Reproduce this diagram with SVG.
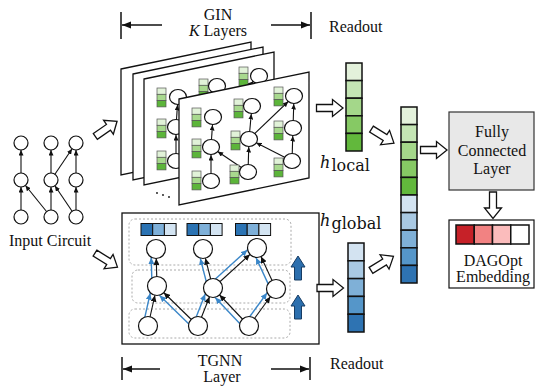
<svg xmlns="http://www.w3.org/2000/svg" xmlns:xlink="http://www.w3.org/1999/xlink" width="535" height="387" viewBox="0 0 535 387">
<style>
text{font-family:"Liberation Serif","Times New Roman",serif;font-size:16px;fill:#111}
text.math{font-family:"DejaVu Serif",serif}
.plane{fill:#fff;stroke:#111;stroke-width:1.3}
.e{stroke:#111;stroke-width:1.1;fill:none}
.n{fill:#fff;stroke:#111;stroke-width:1.2}
.cell{stroke:#111;stroke-width:1.5}
.gb{stroke:#555;stroke-width:0.7}
.hol{fill:#fff;stroke:#111;stroke-width:1.3}
.dim{stroke:#111;stroke-width:1.5;fill:none}
.dot{fill:none;stroke:#aaa;stroke-width:1;stroke-dasharray:2 2}
.be{stroke:#3a86c8;stroke-width:1.4;fill:none}
.ua{fill:#2c6fae;stroke:#173c63;stroke-width:1}
</style>
<defs>
<marker id="a7" markerUnits="userSpaceOnUse" markerWidth="13" markerHeight="5" refX="12.5" refY="2.5" orient="auto"><path d="M0,0 L5.5,2.5 L0,5 z" fill="#111"/></marker>
<marker id="a8" markerUnits="userSpaceOnUse" markerWidth="14" markerHeight="5" refX="13.5" refY="2.5" orient="auto"><path d="M0,0 L5.5,2.5 L0,5 z" fill="#111"/></marker>
<marker id="a9" markerUnits="userSpaceOnUse" markerWidth="17" markerHeight="6" refX="16" refY="3" orient="auto"><path d="M0,0 L6.5,3 L0,6 z" fill="#111"/></marker>
<marker id="b9" markerUnits="userSpaceOnUse" markerWidth="16" markerHeight="6" refX="15" refY="3" orient="auto"><path d="M0,0 L6.5,3 L0,6 z" fill="#3a86c8"/></marker>
<marker id="ah" markerUnits="userSpaceOnUse" markerWidth="10" markerHeight="8" refX="9" refY="4" orient="auto"><path d="M0,0.5 L9,4 L0,7.5 z" fill="#111"/></marker>
<path id="ha" d="M-13,-3.5 H3 V-8.5 L13.5,0 L3,8.5 V3.5 H-13 Z"/>
<path id="upa" d="M0,-12 L7,-1 L3.5,-1 L3.5,12 L-3.5,12 L-3.5,-1 L-7,-1 Z"/>
<g id="gbar">
<rect class="gb" x="0" y="0" width="9" height="6.3" fill="#e1f2d8"/>
<rect class="gb" x="0" y="6.3" width="9" height="6.3" fill="#a8d98e"/>
<rect class="gb" x="0" y="12.6" width="9" height="6.3" fill="#5cb53a"/>
</g>
<g id="bbar">
<rect x="0" y="0" width="11.7" height="12" fill="#2b73b3" stroke="#111" stroke-width="1"/>
<rect x="11.7" y="0" width="11.7" height="12" fill="#7eb0d9" stroke="#111" stroke-width="1"/>
<rect x="23.4" y="0" width="11.7" height="12" fill="#d3e4f2" stroke="#111" stroke-width="1"/>
</g>
<g id="gin-graph">
<g class="gin-edges">
<line class="e" marker-end="url(#a8)" x1="211" y1="181" x2="211" y2="147"/>
<line class="e" marker-end="url(#a8)" x1="211" y1="147" x2="213" y2="117"/>
<line class="e" marker-end="url(#a8)" x1="248" y1="172" x2="211" y2="147"/>
<line class="e" marker-end="url(#a8)" x1="248" y1="172" x2="249" y2="139"/>
<line class="e" marker-end="url(#a8)" x1="249" y1="139" x2="252" y2="106"/>
<line class="e" marker-end="url(#a8)" x1="249" y1="139" x2="294" y2="96"/>
<line class="e" marker-end="url(#a8)" x1="292" y1="161" x2="249" y2="139"/>
<line class="e" marker-end="url(#a8)" x1="292" y1="161" x2="293" y2="128"/>
<line class="e" marker-end="url(#a8)" x1="293" y1="128" x2="294" y2="96"/>
</g>
<use xlink:href="#gbar" href="#gbar" x="192" y="108"/>
<use xlink:href="#gbar" href="#gbar" x="192" y="139"/>
<use xlink:href="#gbar" href="#gbar" x="192" y="171"/>
<use xlink:href="#gbar" href="#gbar" x="234" y="99"/>
<use xlink:href="#gbar" href="#gbar" x="231" y="131"/>
<use xlink:href="#gbar" href="#gbar" x="230" y="165"/>
<use xlink:href="#gbar" href="#gbar" x="274" y="87"/>
<use xlink:href="#gbar" href="#gbar" x="274" y="121"/>
<use xlink:href="#gbar" href="#gbar" x="274" y="158"/>
<ellipse class="n" cx="213" cy="117" rx="8.5" ry="7.5"/>
<ellipse class="n" cx="211" cy="147" rx="8.5" ry="7.5"/>
<ellipse class="n" cx="211" cy="181" rx="8.5" ry="7.5"/>
<ellipse class="n" cx="252" cy="106" rx="8.5" ry="7.5"/>
<ellipse class="n" cx="249" cy="139" rx="8.5" ry="7.5"/>
<ellipse class="n" cx="248" cy="172" rx="8.5" ry="7.5"/>
<ellipse class="n" cx="294" cy="96" rx="8.5" ry="7.5"/>
<ellipse class="n" cx="293" cy="128" rx="8.5" ry="7.5"/>
<ellipse class="n" cx="292" cy="161" rx="8.5" ry="7.5"/>
</g>
</defs>
<rect width="535" height="387" fill="#fff"/>

<!-- header -->
<g id="header-gin">
<line class="dim" x1="121" y1="12" x2="121" y2="39"/>
<line class="dim" x1="162" y1="25" x2="122" y2="25" marker-end="url(#ah)"/>
<line class="dim" x1="271" y1="25" x2="310" y2="25" marker-end="url(#ah)"/>
<line class="dim" x1="311" y1="12" x2="311" y2="39"/>
<text x="218" y="20" text-anchor="middle">GIN</text>
<text x="218" y="36" text-anchor="middle"><tspan font-style="italic">K</tspan> Layers</text>
<text x="329" y="32">Readout</text>
</g>

<!-- input circuit -->
<g id="input-circuit">
<g class="connectors">
<line class="e" marker-end="url(#a7)" x1="21" y1="217" x2="21" y2="180"/>
<line class="e" marker-end="url(#a7)" x1="21" y1="180" x2="21" y2="143"/>
<line class="e" marker-end="url(#a7)" x1="51" y1="217" x2="51" y2="180"/>
<line class="e" marker-end="url(#a7)" x1="51" y1="180" x2="51" y2="143"/>
<line class="e" marker-end="url(#a7)" x1="76" y1="217" x2="76" y2="180"/>
<line class="e" marker-end="url(#a7)" x1="76" y1="180" x2="76" y2="143"/>
<line class="e" marker-end="url(#a7)" x1="51" y1="217" x2="21" y2="180"/>
<line class="e" marker-end="url(#a7)" x1="76" y1="217" x2="51" y2="180"/>
<line class="e" marker-end="url(#a7)" x1="51" y1="180" x2="76" y2="143"/>
</g>
<circle class="n" cx="21" cy="143" r="7"/>
<circle class="n" cx="51" cy="143" r="7"/>
<circle class="n" cx="76" cy="143" r="7"/>
<circle class="n" cx="21" cy="180" r="7"/>
<circle class="n" cx="51" cy="180" r="7"/>
<circle class="n" cx="76" cy="180" r="7"/>
<circle class="n" cx="21" cy="217" r="7"/>
<circle class="n" cx="51" cy="217" r="7"/>
<circle class="n" cx="76" cy="217" r="7"/>
<text x="9" y="246">Input Circuit</text>
</g>

<!-- GIN stack -->
<g id="gin-layers">
<polygon class="plane" points="121,69 251,42 251,148 121,175"/>
<polygon class="plane" points="133,74 263,47 263,153 133,180"/>
<polygon class="plane" points="144,79 274,52 274,158 144,185"/>
<use xlink:href="#gin-graph" href="#gin-graph" transform="translate(-35,-20)"/>
<circle cx="157" cy="193" r="0.9" fill="#111"/>
<circle cx="163" cy="195" r="0.9" fill="#111"/>
<circle cx="169" cy="197" r="0.9" fill="#111"/>
<polygon class="plane" points="179,99 309,72 309,178 179,205"/>
<use xlink:href="#gin-graph" href="#gin-graph"/>
</g>

<!-- TGNN -->
<g id="tgnn">
<rect x="122" y="213" width="197" height="131" fill="#fff" stroke="#111" stroke-width="1.3"/>
<rect class="dot" x="129" y="219" width="162" height="46" rx="6"/>
<rect class="dot" x="132" y="270" width="158" height="33" rx="6"/>
<rect class="dot" x="129" y="309" width="161" height="29" rx="6"/>
<g class="connectors">
<line class="e" marker-end="url(#a9)" x1="148" y1="326" x2="157" y2="286"/>
<line class="e" marker-end="url(#a9)" x1="198" y1="326" x2="157" y2="286"/>
<line class="e" marker-end="url(#a9)" x1="198" y1="326" x2="213" y2="288"/>
<line class="e" marker-end="url(#a9)" x1="249" y1="326" x2="213" y2="288"/>
<line class="e" marker-end="url(#a9)" x1="249" y1="326" x2="276" y2="289"/>
<line class="e" marker-end="url(#a9)" x1="157" y1="286" x2="156" y2="249"/>
<line class="e" marker-end="url(#a9)" x1="213" y1="288" x2="203" y2="249"/>
<line class="e" marker-end="url(#a9)" x1="213" y1="288" x2="257" y2="248"/>
<line class="e" marker-end="url(#a9)" x1="276" y1="289" x2="257" y2="248"/>
<line class="be" marker-end="url(#b9)" x1="143.1" y1="324.9" x2="152.1" y2="284.9"/>
<line class="be" marker-end="url(#b9)" x1="194.5" y1="329.6" x2="153.5" y2="289.6"/>
<line class="be" marker-end="url(#b9)" x1="193.3" y1="324.2" x2="208.3" y2="286.2"/>
<line class="be" marker-end="url(#b9)" x1="245.4" y1="329.4" x2="209.4" y2="291.4"/>
<line class="be" marker-end="url(#b9)" x1="245.0" y1="323.1" x2="272.0" y2="286.1"/>
<line class="be" marker-end="url(#b9)" x1="152" y1="286.1" x2="151" y2="249.1"/>
<line class="be" marker-end="url(#b9)" x1="208.2" y1="289.2" x2="198.2" y2="250.2"/>
<line class="be" marker-end="url(#b9)" x1="209.6" y1="284.3" x2="253.6" y2="244.3"/>
<line class="be" marker-end="url(#b9)" x1="271.5" y1="291.1" x2="252.5" y2="250.1"/>
</g>
<circle class="n" cx="156" cy="249" r="9.5"/>
<circle class="n" cx="203" cy="249" r="9.5"/>
<circle class="n" cx="257" cy="248" r="9.5"/>
<circle class="n" cx="157" cy="286" r="9.5"/>
<circle class="n" cx="213" cy="288" r="9.5"/>
<circle class="n" cx="276" cy="289" r="9.5"/>
<circle class="n" cx="148" cy="326" r="9.5"/>
<circle class="n" cx="198" cy="326" r="9.5"/>
<circle class="n" cx="249" cy="326" r="9.5"/>
<use xlink:href="#bbar" href="#bbar" x="141" y="223.5"/>
<use xlink:href="#bbar" href="#bbar" x="187" y="223.5"/>
<use xlink:href="#bbar" href="#bbar" x="235.5" y="223.5"/>
<use class="ua" xlink:href="#upa" href="#upa" transform="translate(298,268)"/>
<use class="ua" xlink:href="#upa" href="#upa" transform="translate(298,307)"/>
</g>

<g id="footer-tgnn">
<line class="dim" x1="122" y1="357" x2="122" y2="380"/>
<line class="dim" x1="160" y1="369" x2="123" y2="369" marker-end="url(#ah)"/>
<line class="dim" x1="271" y1="369" x2="309" y2="369" marker-end="url(#ah)"/>
<line class="dim" x1="310" y1="357" x2="310" y2="380"/>
<text x="220" y="366" text-anchor="middle">TGNN</text>
<text x="222" y="382" text-anchor="middle">Layer</text>
<text x="330" y="369">Readout</text>
</g>

<!-- readout vectors -->
<g id="h-local">
<rect class="cell" x="346" y="63" width="16" height="17.6" fill="#e3f1db"/>
<rect class="cell" x="346" y="80.6" width="16" height="17.6" fill="#c4e5b4"/>
<rect class="cell" x="346" y="98.2" width="16" height="17.6" fill="#a4d78a"/>
<rect class="cell" x="346" y="115.8" width="16" height="17.6" fill="#86c964"/>
<rect class="cell" x="346" y="133.4" width="16" height="17.6" fill="#62b83c"/>
<text class="math" x="320" y="168" font-size="23" font-style="italic">h</text>
<text class="math" x="331.5" y="171" font-size="16.5">local</text>
</g>
<g id="h-global">
<rect class="cell" x="348" y="243" width="16" height="17.8" fill="#d3e3f1"/>
<rect class="cell" x="348" y="260.8" width="16" height="17.8" fill="#a9c9e3"/>
<rect class="cell" x="348" y="278.6" width="16" height="17.8" fill="#7fb0d7"/>
<rect class="cell" x="348" y="296.4" width="16" height="17.8" fill="#5596c9"/>
<rect class="cell" x="348" y="314.2" width="16" height="17.8" fill="#2e73b2"/>
<text class="math" x="320" y="226" font-size="23" font-style="italic">h</text>
<text class="math" x="331.5" y="229" font-size="16.5">global</text>
</g>
<g id="concat">
<rect class="cell" x="401" y="107" width="16" height="17.6" fill="#e3f1db"/>
<rect class="cell" x="401" y="124.6" width="16" height="17.6" fill="#c4e5b4"/>
<rect class="cell" x="401" y="142.2" width="16" height="17.6" fill="#a4d78a"/>
<rect class="cell" x="401" y="159.8" width="16" height="17.6" fill="#86c964"/>
<rect class="cell" x="401" y="177.4" width="16" height="17.6" fill="#62b83c"/>
<rect class="cell" x="401" y="195" width="16" height="17.6" fill="#d3e3f1"/>
<rect class="cell" x="401" y="212.6" width="16" height="17.6" fill="#a9c9e3"/>
<rect class="cell" x="401" y="230.2" width="16" height="17.6" fill="#7fb0d7"/>
<rect class="cell" x="401" y="247.8" width="16" height="17.6" fill="#5596c9"/>
<rect class="cell" x="401" y="265.4" width="16" height="17.6" fill="#2e73b2"/>
</g>

<g id="fc">
<rect x="449" y="112" width="85" height="78" fill="#e8e8e8" stroke="#333" stroke-width="1.2"/>
<text x="492" y="137" text-anchor="middle">Fully</text>
<text x="492" y="156" text-anchor="middle">Connected</text>
<text x="492" y="174" text-anchor="middle">Layer</text>
</g>
<g id="dagopt">
<rect x="449" y="220" width="85" height="68" fill="#fff" stroke="#111" stroke-width="1.2"/>
<rect class="cell" x="456" y="225" width="18.25" height="19" fill="#c62128"/>
<rect class="cell" x="474.25" y="225" width="18.25" height="19" fill="#f28282"/>
<rect class="cell" x="492.5" y="225" width="18.25" height="19" fill="#fbbcbc"/>
<rect class="cell" x="510.75" y="225" width="18.25" height="19" fill="#fff"/>
<text x="493" y="266" text-anchor="middle">DAGOpt</text>
<text x="493" y="282" text-anchor="middle">Embedding</text>
</g>

<!-- flow arrows -->
<g id="flow-arrows">
<use class="hol" xlink:href="#ha" href="#ha" transform="translate(106,129) rotate(-35)"/>
<use class="hol" xlink:href="#ha" href="#ha" transform="translate(106,260) rotate(32)"/>
<use class="hol" xlink:href="#ha" href="#ha" transform="translate(329.5,108)"/>
<use class="hol" xlink:href="#ha" href="#ha" transform="translate(382.5,136) rotate(32)"/>
<use class="hol" xlink:href="#ha" href="#ha" transform="translate(330,288)"/>
<use class="hol" xlink:href="#ha" href="#ha" transform="translate(382,263.5) rotate(-32)"/>
<use class="hol" xlink:href="#ha" href="#ha" transform="translate(433.5,150)"/>
<use class="hol" xlink:href="#ha" href="#ha" transform="translate(493,205) rotate(90)"/>
</g>
</svg>
